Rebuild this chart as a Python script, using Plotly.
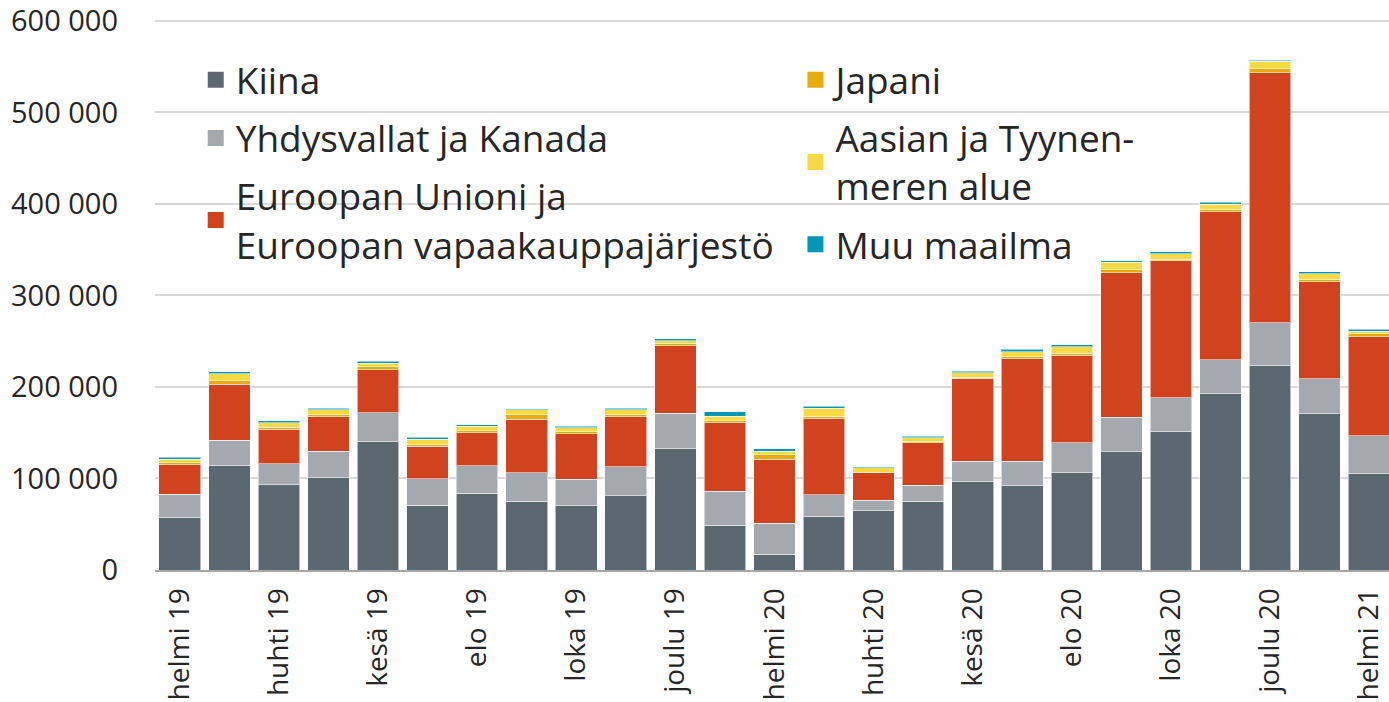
import plotly.graph_objects as go

months = ["helmi 19", "maalis 19", "huhti 19", "touko 19", "kesä 19", "heinä 19",
          "elo 19", "syys 19", "loka 19", "marras 19", "joulu 19", "tammi 20",
          "helmi 20", "maalis 20", "huhti 20", "touko 20", "kesä 20", "heinä 20",
          "elo 20", "syys 20", "loka 20", "marras 20", "joulu 20", "tammi 21", "helmi 21"]
tick_labels = months[::2]

kiina = [57000, 114000, 93000, 101000, 140000, 71000, 84000, 75000, 70000, 81000, 132600, 49000,
         17000, 59000, 64500, 75000, 96500, 92000, 106000, 129000, 151000, 192700, 223000, 170500, 105000]
usa_kanada = [26000, 28000, 23000, 29000, 31600, 28500, 30000, 31000, 29000, 32000, 38400, 37000,
              34000, 23000, 11500, 17500, 22500, 27000, 32800, 38000, 37000, 36800, 47000, 38200, 41800]
eu_efta = [32000, 61000, 38000, 37500, 47400, 35500, 36000, 58700, 50000, 54500, 74000, 75000,
           70000, 83000, 30000, 46500, 90500, 111600, 95800, 158000, 149700, 162100, 273500, 106300, 108200]
japani = [2000, 3500, 2000, 2500, 2900, 2000, 2000, 5000, 2000, 2500, 2300, 2000,
          4700, 3000, 1000, 1000, 1100, 2400, 1800, 3000, 1800, 2200, 4000, 2000, 3000]
aasia = [4000, 8000, 5000, 5000, 4000, 6000, 5000, 5300, 4500, 5000, 3300, 5000,
         4000, 8700, 4500, 4600, 4700, 5600, 7600, 8000, 5900, 5800, 8500, 6500, 3000]
muu = [2000, 2000, 2000, 1700, 2100, 2000, 1500, 1000, 1500, 1700, 1900, 4700,
       2900, 2300, 1000, 1400, 1900, 2400, 2000, 2000, 2100, 2200, 1000, 2200, 2000]

series = [
    ("Kiina", kiina, "#5b6870", "legend"),
    ("Yhdysvallat ja Kanada", usa_kanada, "#a3a9ae", "legend"),
    ("Euroopan Unioni ja<br>Euroopan vapaakauppajärjestö", eu_efta, "#d1421f", "legend"),
    ("Japani", japani, "#e8ab0e", "legend2"),
    ("Aasian ja Tyynen-<br>meren alue", aasia, "#f5da45", "legend2"),
    ("Muu maailma", muu, "#0096b5", "legend2"),
]

fig = go.Figure()
for i, (name, vals, color, leg) in enumerate(series):
    fig.add_trace(go.Bar(
        x=months, y=vals, name=name, legendgroup=f"g{i}", showlegend=False,
        marker=dict(color=color, line=dict(color="rgba(255,255,255,0.55)", width=1)),
    ))
for i, (name, vals, color, leg) in enumerate(series):
    fig.add_trace(go.Scatter(
        x=[None], y=[None], mode="markers", name=name, legendgroup=f"g{i}",
        legend=leg, showlegend=True,
        marker=dict(symbol="square", size=22, color=color),
    ))

font_family = "Open Sans"
legend_font = dict(size=37, color="#262626")
fig.update_layout(
    width=1389, height=702,
    margin=dict(l=155, r=0, t=19, b=132, autoexpand=False),
    paper_bgcolor="white", plot_bgcolor="white",
    barmode="stack", bargap=0.16,
    separators=", ",
    font=dict(family=font_family, color="#262626"),
    legend=dict(x=0.033, y=0.945, xanchor="left", yanchor="top",
                bgcolor="rgba(0,0,0,0)", font=legend_font,
                traceorder="grouped", tracegroupgap=7, itemsizing="trace"),
    legend2=dict(x=0.519, y=0.945, xanchor="left", yanchor="top",
                 bgcolor="rgba(0,0,0,0)", font=legend_font,
                 traceorder="grouped", tracegroupgap=7, itemsizing="trace"),
    xaxis=dict(
        type="category", categoryorder="array", categoryarray=months,
        range=[-0.5, 24.4], tickmode="array", tickvals=tick_labels, ticktext=tick_labels,
        tickangle=-90, tickfont=dict(size=28, color="#262626"), ticklabelstandoff=5,
        showgrid=False, showline=True, linecolor="#a6a6a6", linewidth=2,
        ticks="", zeroline=False, ticklabeloverflow="allow", automargin=False,
    ),
    yaxis=dict(
        range=[0, 602000], tickvals=[0, 100000, 200000, 300000, 400000, 500000, 600000],
        tickformat=",d", tickfont=dict(size=29, color="#262626"),
        showgrid=True, gridcolor="#d9d9d9", gridwidth=2,
        zeroline=False, showline=False, ticks="", ticklabelstandoff=36,
        ticklabeloverflow="allow", automargin=False,
    ),
)

# remove the default 8px page margin so the 1389x702 figure fills the window exactly
fig.write_html("out.html", config={"displayModeBar": False},
               post_script="document.body.style.margin='0';")
